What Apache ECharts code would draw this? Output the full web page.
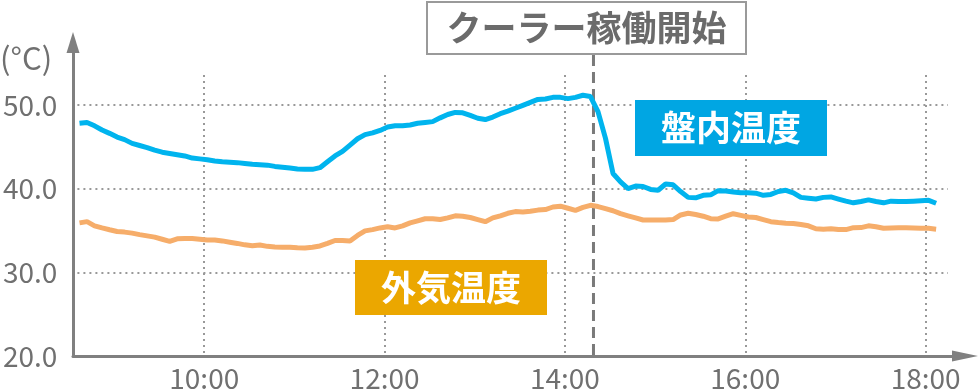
<!DOCTYPE html>
<html><head><meta charset="utf-8">
<script src="https://cdn.jsdelivr.net/npm/echarts@6/dist/echarts.min.js"></script>
<style>html,body{margin:0;padding:0;background:#fff}#c{width:980px;height:392px}</style>
</head><body><div id="c"></div>
<script>
// ---- data ----
const times = [
 "8:37","8:42","8:47","8:52","8:57",
 "9:02","9:07","9:12","9:17","9:22","9:27","9:32","9:37","9:42","9:47","9:52","9:57",
 "10:02","10:07","10:12","10:17","10:22","10:27","10:32","10:37","10:42","10:47","10:52","10:57",
 "11:02","11:07","11:12","11:17","11:22","11:27","11:32","11:37","11:42","11:47","11:52","11:57",
 "12:02","12:07","12:12","12:17","12:22","12:27","12:32","12:37","12:42","12:47","12:52","12:57",
 "13:02","13:07","13:12","13:17","13:22","13:27","13:32","13:37","13:42","13:47","13:52","13:57",
 "14:02","14:07","14:12","14:17","14:22","14:27","14:32","14:37","14:42","14:47","14:52","14:57",
 "15:02","15:07","15:12","15:17","15:22","15:27","15:32","15:37","15:42","15:47","15:52","15:57",
 "16:02","16:07","16:12","16:17","16:22","16:27","16:32","16:37","16:42","16:47","16:52","16:57",
 "17:02","17:07","17:12","17:17","17:22","17:27","17:32","17:37","17:42","17:47","17:52","17:57",
 "18:02","18:07"
];
const panelTemp = [
 47.8,47.9,47.5,47.0,46.6,46.15,45.85,45.4,45.15,44.9,
 44.6,44.35,44.2,44.05,43.9,43.65,43.55,43.45,43.3,43.2,
 43.15,43.1,43.0,42.9,42.85,42.8,42.65,42.55,42.45,42.35,
 42.3,42.3,42.5,43.2,43.9,44.45,45.2,45.95,46.45,46.65,
 46.95,47.35,47.5,47.5,47.6,47.8,47.9,48.0,48.45,48.85,
 49.1,49.05,48.75,48.4,48.25,48.55,48.95,49.25,49.6,49.95,
 50.3,50.65,50.7,50.9,50.9,50.75,50.9,51.15,51.0,49.2,
 46.0,41.8,40.8,40.0,40.3,40.25,39.9,39.8,40.55,40.45,
 39.65,38.95,38.9,39.2,39.25,39.75,39.7,39.6,39.5,39.5,
 39.45,39.2,39.3,39.65,39.8,39.5,38.95,38.85,38.75,38.95,
 39.0,38.75,38.5,38.3,38.45,38.65,38.45,38.3,38.5,38.45,
 38.45,38.5,38.55,38.6,38.25
];
const outsideTemp = [
 35.9,36.05,35.55,35.3,35.08,34.87,34.8,34.68,34.5,34.35,
 34.2,33.95,33.7,34.0,34.05,34.03,33.95,33.87,33.87,33.75,
 33.6,33.45,33.28,33.17,33.25,33.1,33.02,33.0,33.0,32.93,
 32.9,33.0,33.15,33.45,33.8,33.8,33.75,34.4,34.95,35.1,
 35.3,35.45,35.3,35.55,35.9,36.15,36.4,36.4,36.3,36.5,
 36.75,36.7,36.55,36.3,36.05,36.5,36.75,37.05,37.25,37.2,
 37.3,37.43,37.5,37.8,37.9,37.65,37.4,37.75,38.0,37.85,
 37.6,37.35,37.0,36.75,36.5,36.25,36.25,36.25,36.25,36.3,
 36.85,37.05,36.9,36.7,36.4,36.38,36.7,37.0,36.8,36.6,
 36.55,36.3,36.05,35.95,35.87,35.82,35.7,35.55,35.2,35.15,
 35.2,35.1,35.1,35.33,35.34,35.55,35.45,35.27,35.3,35.32,
 35.33,35.3,35.27,35.25,35.15
];
const xTickLabels = ["10:00","12:00","14:00","16:00","18:00"];
const yTickValues = [20, 30, 40, 50];
const coolerStart = "14:19";
const annotationTitle = "クーラー稼働開始";
const seriesNames = ["盤内温度", "外気温度"];
const unitLabel = "(°C)";

// ---- helpers ----
function toMin(s){ const p = s.split(':').map(Number); return p[0]*60 + p[1]; }
function fmt(v){ const h = Math.floor(v/60), m = Math.round(v - h*60); return String(h).padStart(2,'0') + ':' + String(m).padStart(2,'0'); }

const FONT = '"Noto Sans CJK JP", "Noto Sans", sans-serif';
const GRAY = '#707070';
const AXIS = '#808080';
const BLUE = '#00b4ee', BLUE_BOX = '#00a6e3';
const ORANGE = '#f6ad6a', ORANGE_BOX = '#eba700';

const xTicks = xTickLabels.map(toMin);
const gridLine = { show: true, lineStyle: { color: '#999', width: 2, type: [2, 4] } };

const chart = echarts.init(document.getElementById('c'), null, { renderer: 'canvas' });
const option = {
  animation: false,
  grid: [
    { left: 73, right: 32, top: 75, bottom: 36 },
    { left: 73, right: 15, top: 42.5, bottom: 36 }
  ],
  xAxis: [
    { type: 'value', gridIndex: 0, min: 515.6, max: 1094.9,
      axisLine: { show: false },
      axisTick: { show: false, customValues: xTicks },
      axisLabel: { customValues: xTicks, formatter: fmt, color: GRAY, fontSize: 28, fontFamily: FONT, margin: 8 },
      splitLine: gridLine },
    { type: 'value', gridIndex: 1, min: 0, max: 1,
      axisLine: { show: true, symbol: ['none', 'triangle'], symbolSize: [11, 26], lineStyle: { color: AXIS, width: 3 } },
      axisTick: { show: false }, axisLabel: { show: false }, splitLine: { show: false } }
  ],
  yAxis: [
    { type: 'value', gridIndex: 0, min: 20, max: 53.57,
      axisLine: { show: false },
      axisTick: { show: false, customValues: yTickValues },
      axisLabel: { customValues: yTickValues, formatter: v => v.toFixed(1), color: GRAY, fontSize: 28, fontFamily: FONT, margin: 20 },
      splitLine: gridLine },
    { type: 'value', gridIndex: 1, min: 0, max: 1,
      axisLine: { show: true, symbol: ['none', 'triangle'], symbolSize: [13, 21], lineStyle: { color: AXIS, width: 3 } },
      axisTick: { show: false }, axisLabel: { show: false }, splitLine: { show: false } }
  ],
  series: [
    { name: seriesNames[0], type: 'line', xAxisIndex: 0, yAxisIndex: 0, showSymbol: false, z: 3,
      lineStyle: { color: BLUE, width: 5 }, itemStyle: { color: BLUE },
      data: times.map((t, i) => [toMin(t), panelTemp[i]]) },
    { name: seriesNames[1], type: 'line', xAxisIndex: 0, yAxisIndex: 0, showSymbol: false, z: 3,
      lineStyle: { color: ORANGE, width: 5 }, itemStyle: { color: ORANGE },
      data: times.map((t, i) => [toMin(t), outsideTemp[i]]) }
  ]
};
chart.setOption(option);

const dashX = chart.convertToPixel({ xAxisIndex: 0 }, toMin(coolerStart));
const baseY = chart.convertToPixel({ yAxisIndex: 0 }, 20);
function box(x, y, w, h, fill, stroke, text, color) {
  return { type: 'group', z: 100, children: [
    { type: 'rect', shape: { x: x, y: y, width: w, height: h },
      style: { fill: fill, stroke: stroke || null, lineWidth: stroke ? 2 : 0 } },
    { type: 'text', style: { x: x + w/2, y: y + h/2, text: text, align: 'center', verticalAlign: 'middle',
      fill: color, fontSize: 35, fontWeight: 'bold', fontFamily: FONT } }
  ]};
}
chart.setOption({
  graphic: [
    { type: 'line', z: 1, shape: { x1: dashX, y1: 55, x2: dashX, y2: baseY },
      style: { stroke: '#7a7a7a', lineWidth: 3, lineDash: [11, 6] } },
    box(427, 2, 319, 52, '#fff', '#9a9a9a', annotationTitle, '#6b6b6b'),
    box(635, 100, 192, 56, BLUE_BOX, null, seriesNames[0], '#fff'),
    box(355, 260, 192, 55, ORANGE_BOX, null, seriesNames[1], '#fff'),
    { type: 'text', z: 100, style: { x: 0, y: 58, text: unitLabel, align: 'left', verticalAlign: 'middle',
      fill: GRAY, fontSize: 31, fontFamily: FONT } }
  ]
});
</script>
</body></html>
